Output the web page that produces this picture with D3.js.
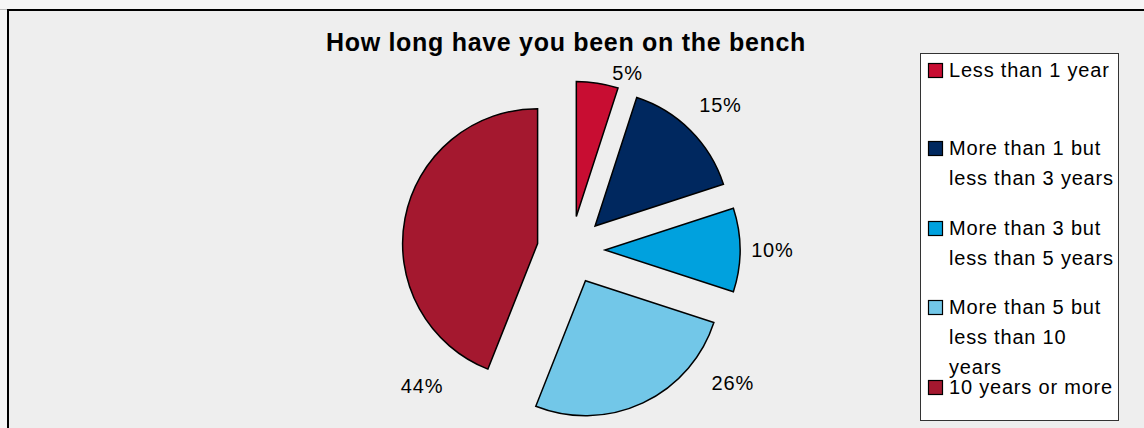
<!DOCTYPE html>
<html>
<head>
<meta charset="utf-8">
<script src="https://cdn.jsdelivr.net/npm/d3@7"></script>
<style>
  html, body { margin: 0; padding: 0; background: #f6f6f6; }
  svg { display: block; }
  text { font-family: "Liberation Sans", Arial, sans-serif; fill: #000; }
</style>
</head>
<body>
<svg id="chart" width="1144" height="428"></svg>
<script>
// ---- data ----
const title = "How long have you been on the bench";
const categories = [
  "Less than 1 year",
  "More than 1 but less than 3 years",
  "More than 3 but less than 5 years",
  "More than 5 but less than 10 years",
  "10 years or more"
];
const values = [5, 15, 10, 26, 44];
const legendLines = [
  ["Less than 1 year"],
  ["More than 1 but", "less than 3 years"],
  ["More than 3 but", "less than 5 years"],
  ["More than 5 but", "less than 10", "years"],
  ["10 years or more"]
];
const colors = ["#c80d32", "#00285f", "#00a1de", "#72c7e8", "#a4182f"];

// ---- layout ----
const W = 1144, H = 428;
const svg = d3.select("#chart");
svg.append("rect").attr("x", 0).attr("y", 9).attr("width", W).attr("height", 1).attr("fill", "#bdbdbd");
svg.append("rect").attr("x", 8).attr("y", 10).attr("width", W + 10).attr("height", H)
  .attr("fill", "#eeeeee").attr("stroke", "#000").attr("stroke-width", 2);

svg.append("text").attr("x", 566).attr("y", 51)
  .attr("text-anchor", "middle").attr("font-size", 25).attr("font-weight", "bold")
  .attr("letter-spacing", 0.7).text(title);

const cx = 571, cy = 250, r = 135, explode = 34;
const pie = d3.pie().sort(null).value(d => d);
const arcs = pie(values);
const arc = d3.arc().innerRadius(0).outerRadius(r);

// label placement: fraction along slice angle & radial distance (layout only)
const labelFrac = [1.09, 0.52, 0.5, 0.18, 0.11];
const labelDist = [1.13, 1.29, 1.24, 1.33, 1.36];

const g = svg.append("g").attr("transform", `translate(${cx},${cy})`);
arcs.forEach((a, i) => {
  const mid = (a.startAngle + a.endAngle) / 2;
  const ox = explode * Math.sin(mid), oy = -explode * Math.cos(mid);
  const sg = g.append("g").attr("transform", `translate(${ox},${oy})`);
  sg.append("path").attr("d", arc(a)).attr("fill", colors[i])
    .attr("stroke", "#000").attr("stroke-width", 1.5).attr("stroke-linejoin", "miter");
  const la = a.startAngle + labelFrac[i] * (a.endAngle - a.startAngle);
  const lr = r * labelDist[i];
  sg.append("text")
    .attr("x", lr * Math.sin(la)).attr("y", -lr * Math.cos(la))
    .attr("text-anchor", "middle").attr("dominant-baseline", "central")
    .attr("font-size", 20).attr("letter-spacing", 0.8)
    .text(d3.format(".0%")(a.data / d3.sum(values)));
});

// ---- legend ----
const lg = svg.append("g");
lg.append("rect").attr("x", 920.5).attr("y", 53.5).attr("width", 198).attr("height", 367)
  .attr("fill", "#fff").attr("stroke", "#333").attr("stroke-width", 1);
const itemY = [70, 148, 228, 307, 387];
const lineH = 30;
legendLines.forEach((lines, i) => {
  const y0 = itemY[i];
  lg.append("rect").attr("x", 928.5).attr("y", y0 - 6.5).attr("width", 14).attr("height", 14)
    .attr("fill", colors[i]).attr("stroke", "#000").attr("stroke-width", 1.2);
  lines.forEach((ln, j) => {
    lg.append("text").attr("x", 949).attr("y", y0 + j * lineH)
      .attr("dominant-baseline", "central").attr("font-size", 20).attr("letter-spacing", 0.8)
      .text(ln);
  });
});
</script>
</body>
</html>
